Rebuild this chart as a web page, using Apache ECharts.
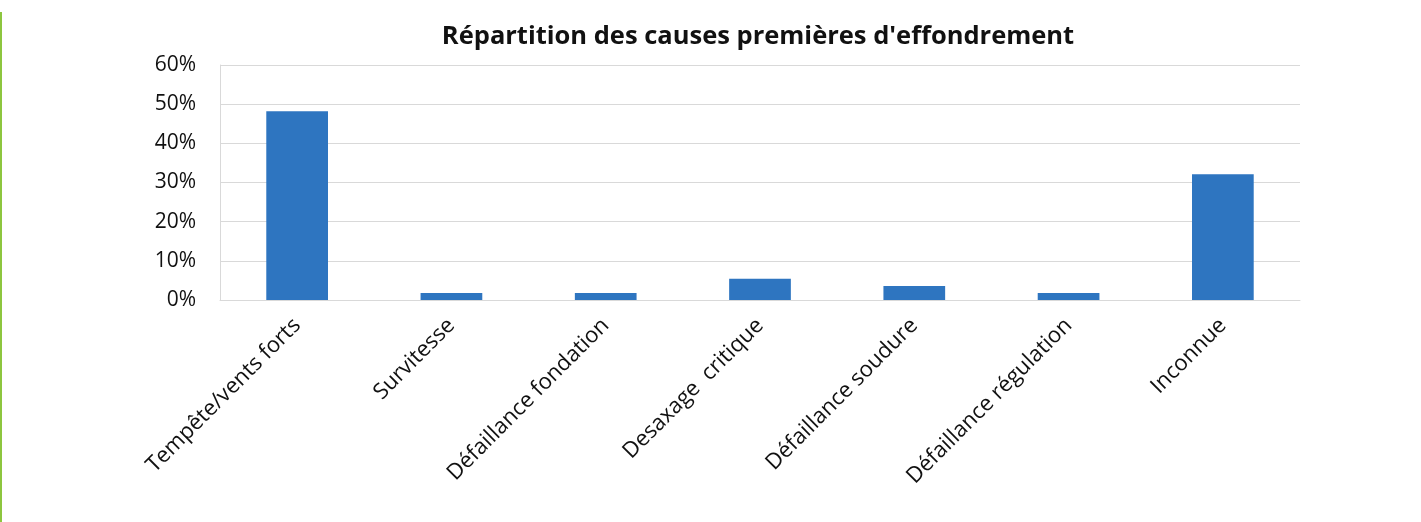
<!DOCTYPE html>
<html>
<head>
<meta charset="utf-8">
<script src="https://cdn.jsdelivr.net/npm/echarts@6/dist/echarts.min.js"></script>
<style>
  html, body { margin: 0; padding: 0; background: #ffffff; }
  #chart { width: 1421px; height: 522px; }
</style>
</head>
<body>
<div id="chart"></div>
<script>
// Causes of collapse and their share of recorded cases (%)
const categories = [
  'Tempête/vents forts',
  'Survitesse',
  'Défaillance fondation',
  'Desaxage  critique',
  'Défaillance soudure',
  'Défaillance régulation',
  'Inconnue'
];
const shares = [48.2, 1.8, 1.8, 5.4, 3.6, 1.8, 32.1];
const yTicks = [0, 10, 20, 30, 40, 50, 60];

const font = 'Open Sans, Noto Sans, sans-serif';
const chart = echarts.init(document.getElementById('chart'), null, { renderer: 'canvas' });

chart.setOption({
  animation: false,
  backgroundColor: '#ffffff',
  title: {
    text: "Répartition des causes premières d'effondrement",
    left: 753,
    textAlign: 'center',
    top: 19,
    textStyle: { fontFamily: font, fontSize: 25.5, fontWeight: 'bold', color: '#111111' }
  },
  graphic: [{
    type: 'rect',
    shape: { x: 0, y: 12, width: 2, height: 510 },
    style: { fill: '#8dc63f' },
    silent: true
  }],
  grid: { left: 220, right: 121, top: 65, bottom: 222, containLabel: false },
  xAxis: {
    type: 'category',
    data: categories,
    axisLine: { show: true, lineStyle: { color: '#d9d9d9', width: 1 } },
    axisTick: { show: false },
    axisLabel: {
      rotate: 45,
      interval: 0,
      margin: 22,
      fontFamily: font,
      fontSize: 22,
      color: '#111111'
    }
  },
  yAxis: {
    type: 'value',
    min: yTicks[0],
    max: yTicks[yTicks.length - 1],
    interval: 10,
    axisLine: { show: true, lineStyle: { color: '#d9d9d9', width: 1 } },
    axisTick: { show: false },
    splitLine: { lineStyle: { color: '#d9d9d9', width: 1 } },
    axisLabel: {
      margin: 24,
      fontFamily: font,
      fontSize: 21,
      color: '#111111',
      formatter: v => v + '%'
    }
  },
  series: [{
    type: 'bar',
    data: shares,
    barWidth: '40%',
    itemStyle: { color: '#2e75c0' }
  }]
});
</script>
</body>
</html>
